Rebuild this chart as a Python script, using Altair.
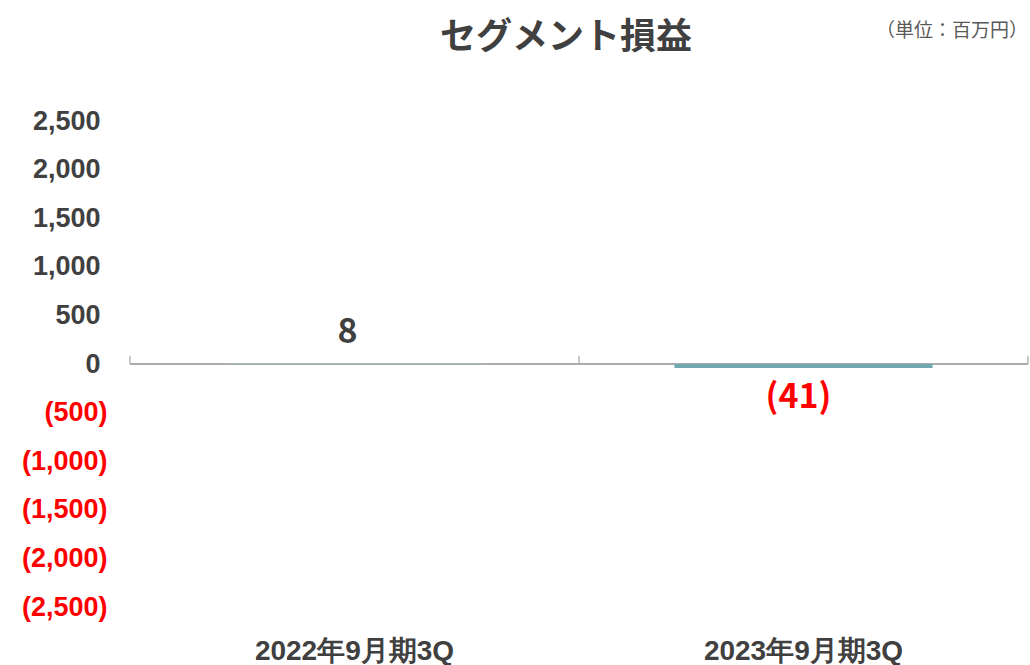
import altair as alt
import pandas as pd

categories = ["2022年9月期3Q", "2023年9月期3Q"]
values = [8, -41]
bar_colors = ["#a9bcc0", "#70a9b1"]
y_ticks = [-2500, -2000, -1500, -1000, -500, 0, 500, 1000, 1500, 2000, 2500]

def fmt(v):
    return f"({abs(v):,})" if v < 0 else f"{v:,}"

df = pd.DataFrame({
    "cat": categories,
    "value": values,
    "color": bar_colors,
    "label": [fmt(v) for v in values],
})

FONT_NUM = "Liberation Sans"
FONT_CJK = "Noto Sans CJK JP"
DARK = "#404040"

x_scale = alt.Scale(domain=categories, paddingInner=0, paddingOuter=0)
y_scale = alt.Scale(domain=[-2500, 2500], nice=False, zero=False)

x_enc = alt.X("cat:N", scale=x_scale, sort=categories, title=None,
              axis=alt.Axis(domain=False, ticks=False, labelAngle=0, labelLimit=500,
                            labelFont=FONT_NUM, labelFontSize=28, labelFontWeight="bold",
                            labelColor=DARK, labelPadding=30, labelBaseline="top"))
y_enc = alt.Y("value:Q", scale=y_scale, title=None,
              axis=alt.Axis(values=y_ticks, grid=False, domain=False, ticks=False,
                            labelFont=FONT_NUM, labelFontSize=27, labelFontWeight="bold",
                            labelPadding=alt.condition("datum.value < 0", alt.value(23), alt.value(30)),
                            labelExpr="datum.value < 0 ? '(' + format(-datum.value, ',') + ')' : format(datum.value, ',')",
                            labelColor=alt.condition("datum.value < 0", alt.value("#ff0000"), alt.value(DARK))))

base = alt.Chart(df)

bars = base.mark_bar(width=alt.RelativeBandSize(0.575)).encode(
    x=x_enc, y=y_enc, color=alt.Color("color:N", scale=None)
)

zero_line = base.mark_rule(color="#a6a6a6", strokeWidth=1.5).encode(
    y=alt.datum(0)
)

tick_df = pd.DataFrame({"cat": categories})
ticks_start = alt.Chart(tick_df).mark_rule(color="#a6a6a6", strokeWidth=1.2).encode(
    x=alt.X("cat:N", scale=x_scale, sort=categories, bandPosition=0),
    y=alt.datum(0), y2=alt.datum(85)
)
ticks_end = alt.Chart(tick_df.tail(1)).mark_rule(color="#a6a6a6", strokeWidth=1.2).encode(
    x=alt.X("cat:N", scale=x_scale, sort=categories, bandPosition=1),
    y=alt.datum(0), y2=alt.datum(85)
)

labels_pos = base.transform_filter("datum.value >= 0").mark_text(
    font=FONT_CJK, fontSize=34, fontWeight="bold", color=DARK, dy=-30, dx=-7
).encode(
    x=alt.X("cat:N", scale=x_scale, sort=categories),
    y="value:Q",
    text="label:N",
)
labels_neg = base.transform_filter("datum.value < 0").mark_text(
    font=FONT_CJK, fontSize=34, fontWeight="bold", color="#ff0000", dy=30, dx=-5
).encode(
    x=alt.X("cat:N", scale=x_scale, sort=categories),
    y="value:Q",
    text="label:N",
)

title_df = pd.DataFrame({"t": ["セグメント損益"]})
title = alt.Chart(title_df).mark_text(font=FONT_CJK, fontSize=36, fontWeight="bold", color=DARK,
                                      align="center", baseline="middle").encode(
    x=alt.value(436), y=alt.value(-83), text="t:N"
)

unit_df = pd.DataFrame({"t": ["（単位：百万円）"]})
unit = alt.Chart(unit_df).mark_text(font=FONT_CJK, fontSize=19, color="#595959",
                                     align="right", baseline="middle").encode(
    x=alt.value(898), y=alt.value(-90), text="t:N"
)

chart = alt.layer(zero_line, bars, ticks_start, ticks_end, labels_pos, labels_neg, title, unit).properties(
    width=898, height=486,
    padding={"left": 130, "top": 121, "right": 2, "bottom": 58},
    autosize="none",
).configure_view(stroke=None)

chart.save("out.html", embed_options={"renderer": "svg", "actions": False})
